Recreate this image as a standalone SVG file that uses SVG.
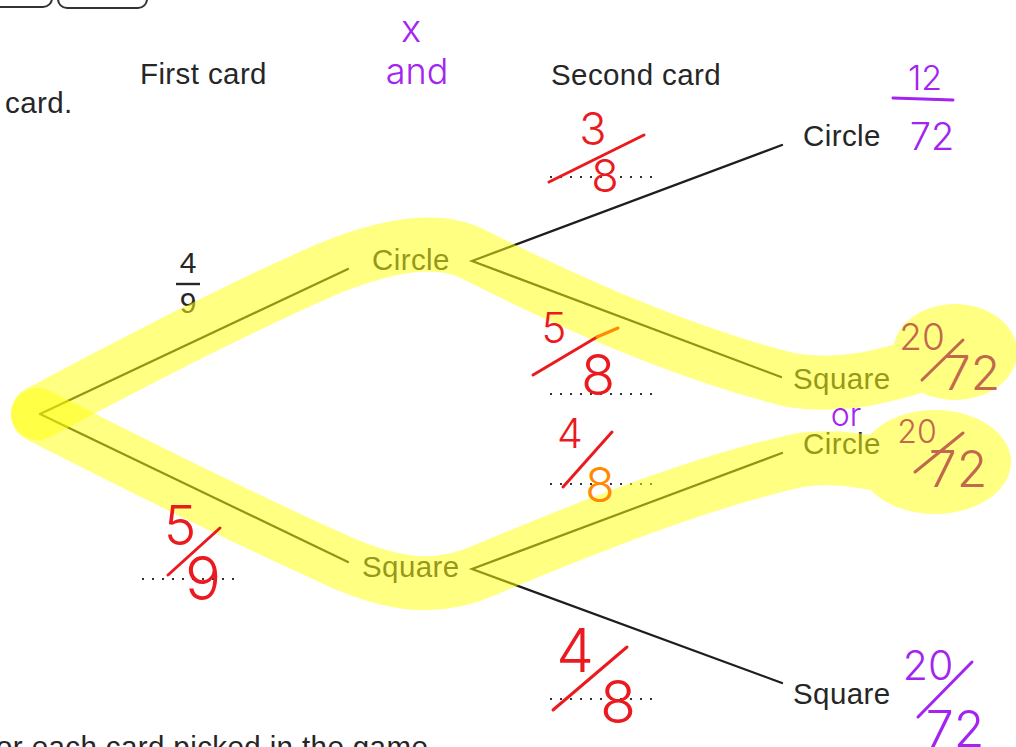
<svg xmlns="http://www.w3.org/2000/svg" width="1016" height="747" viewBox="0 0 1016 747">
<style>
.pt{font-family:"Liberation Sans",Arial,sans-serif;font-size:29.5px;letter-spacing:0.4px;fill:#262626}
.fr{font-family:"Liberation Sans",Arial,sans-serif;font-size:30px;fill:#262626;text-anchor:middle}
.br{stroke:#1e1e1e;stroke-width:2.2;fill:none;stroke-linecap:round}
.dot{stroke:#333;stroke-width:2.2;stroke-dasharray:2 8;fill:none}
.hw{font-family:Inter,Roboto,"DejaVu Sans",sans-serif;font-weight:300;text-anchor:middle}
.red{fill:#ea1a1f}
.org{fill:#ff8a00}
.pur{fill:#a324f0}
.brn{fill:#c2684f}
.sl{stroke-width:3;stroke-linecap:round;fill:none}
.hl{fill:none;stroke:#ffff10;stroke-width:54;stroke-linecap:round;stroke-linejoin:round}
</style>

<g id="page">
  <rect x="-20" y="-30" width="72" height="37" rx="9" fill="none" stroke="#333" stroke-width="2"/>
  <rect x="58" y="-30" width="89" height="38" rx="9" fill="none" stroke="#333" stroke-width="2"/>
  <text class="pt" x="5" y="113">card.</text>
  <text class="pt" x="-4" y="757">or each card picked in the game</text>
</g>

<g id="headers">
  <text class="pt" x="140" y="84">First card</text>
  <text class="pt" x="551" y="85">Second card</text>
</g>

<g id="connectors">
  <line class="br" x1="40" y1="414" x2="348" y2="269"/>
  <line class="br" x1="40" y1="414" x2="348" y2="562"/>
  <polyline class="br" points="782,145 472,261 781,377"/>
  <polyline class="br" points="782,453 472,569 782,683"/>
  <line class="dot" x1="550" y1="177" x2="652" y2="177"/>
  <line class="dot" x1="550" y1="394" x2="652" y2="394"/>
  <line class="dot" x1="550" y1="484" x2="652" y2="484"/>
  <line class="dot" x1="550" y1="699" x2="652" y2="699"/>
  <line class="dot" x1="142" y1="579" x2="242" y2="579"/>
</g>

<g id="prob-4-9">
  <text class="fr" x="188" y="273">4</text>
  <line x1="176" y1="284" x2="200" y2="284" stroke="#262626" stroke-width="2.4"/>
  <text class="fr" x="188" y="313">9</text>
</g>

<g id="node-circle1"><text class="pt" x="372" y="270">Circle</text></g>
<g id="node-square1"><text class="pt" x="362" y="577">Square</text></g>
<g id="node-circle-circle"><text class="pt" x="803" y="146">Circle</text></g>
<g id="node-circle-square"><text class="pt" x="793" y="389">Square</text></g>
<g id="node-square-circle"><text class="pt" x="803" y="454">Circle</text></g>
<g id="node-square-square"><text class="pt" x="793" y="704">Square</text></g>

<g id="highlight-upper" opacity="0.52">
  <path class="hl" d="M38,413 C120,370 220,316 330,268 C390,244 440,236 475,255 C560,298 680,352 790,380 C840,388 880,378 930,362"/>
  <ellipse cx="955" cy="352" rx="62" ry="48" fill="#ffff10"/>
</g>
<g id="highlight-lower" opacity="0.52">
  <path class="hl" d="M38,415 C130,462 240,517 345,564 C400,587 440,590 485,570 C580,530 700,482 800,460 C840,455 870,462 900,468"/>
  <ellipse cx="935" cy="462" rx="76" ry="52" fill="#ffff10"/>
</g>

<g id="annotations">
  <text class="hw pur" x="411" y="42" style="font-size:38px">x</text>
  <text class="hw pur" x="417" y="84" style="font-size:36px">and</text>

  <text class="hw red" x="593" y="145" style="font-size:45px">3</text>
  <line class="sl" x1="549" y1="182" x2="644" y2="135" stroke="#ea1a1f"/>
  <text class="hw red" x="605" y="192" style="font-size:45px">8</text>

  <text class="hw pur" x="925" y="90" style="font-size:34px">12</text>
  <line class="sl" x1="893" y1="98" x2="953" y2="100" stroke="#a324f0"/>
  <text class="hw pur" x="932" y="150" style="font-size:38px">72</text>

  <text class="hw red" x="554" y="343" style="font-size:42px">5</text>
  <line class="sl" x1="533" y1="375" x2="597" y2="337" stroke="#ea1a1f"/>
  <line class="sl" x1="597" y1="337" x2="618" y2="328" stroke="#ff8a00"/>
  <text class="hw red" x="598" y="395" style="font-size:56px">8</text>

  <text class="hw red" x="570" y="448" style="font-size:41px">4</text>
  <line class="sl" x1="563" y1="487" x2="612" y2="432" stroke="#ea1a1f"/>
  <text class="hw org" x="600" y="502" style="font-size:48px">8</text>

  <text class="hw red" x="575" y="672" style="font-size:60px">4</text>
  <line class="sl" x1="553" y1="710" x2="627" y2="647" stroke="#ea1a1f"/>
  <text class="hw red" x="618" y="723" style="font-size:59px">8</text>

  <text class="hw red" x="180" y="545" style="font-size:55px">5</text>
  <line class="sl" x1="168" y1="575" x2="220" y2="528" stroke="#ea1a1f"/>
  <text class="hw red" x="203" y="600" style="font-size:60px">9</text>

  <text class="hw pur" x="846" y="426" style="font-size:32px">or</text>

  <text class="hw brn" x="922" y="350" style="font-size:37px">20</text>
  <line class="sl" x1="922" y1="380" x2="963" y2="340" stroke="#c2684f"/>
  <text class="hw brn" x="972" y="390" style="font-size:48px">72</text>

  <text class="hw brn" x="917" y="443" style="font-size:32px">20</text>
  <line class="sl" x1="915" y1="472" x2="963" y2="433" stroke="#c2684f"/>
  <text class="hw brn" x="958" y="487" style="font-size:50px">72</text>

  <text class="hw pur" x="928" y="680" style="font-size:41px">20</text>
  <line class="sl" x1="918" y1="717" x2="972" y2="662" stroke="#a324f0"/>
  <text class="hw pur" x="955" y="747" style="font-size:50px">72</text>
</g>
</svg>
